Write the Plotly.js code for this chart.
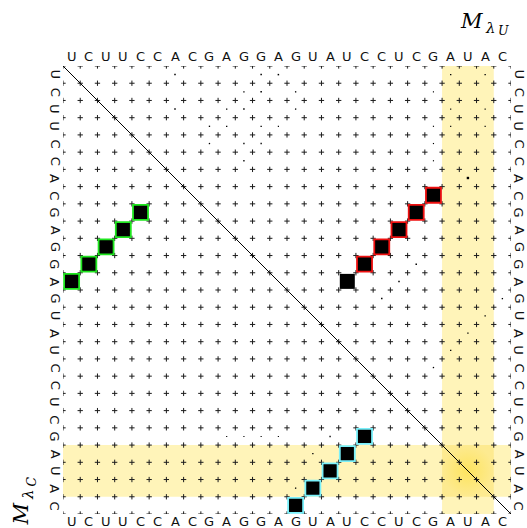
<!DOCTYPE html>
<html>
<head>
<meta charset="utf-8">
<script src="https://cdn.plot.ly/plotly-3.0.1.min.js"></script>
<style>
  html, body { margin: 0; padding: 0; background: #ffffff; }
  #plot { width: 527px; height: 528px; }
</style>
</head>
<body>
<div id="plot"></div>
<script>
// RNA sequence shown along all four sides of the dot plot
const sequence = ['U','C','U','U','C','C','A','C','G','A','G','G','A','G',
                  'U','A','U','C','C','U','C','G','A','U','A','C'];

// Lower-left helix (green outline): row index i, column index j, probability
const helixGreenI = [12, 11, 10, 9, 8];
const helixGreenJ = [0, 1, 2, 3, 4];
const helixGreenP = [1, 1, 1, 1, 1];

// Upper-right helix (red outline)
const helixRedI = [7, 8, 9, 10, 11];
const helixRedJ = [21, 20, 19, 18, 17];
const helixRedP = [1, 1, 1, 1, 1];

// Unmarked pair closing the red helix
const loneI = [12];
const loneJ = [16];
const loneP = [1];

// Bottom helix (cyan outline)
const helixCyanI = [25, 24, 23, 22, 21];
const helixCyanJ = [13, 14, 15, 16, 17];
const helixCyanP = [1, 1, 1, 1, 1];

// Low-probability pairs
const weakI = [0, 0, 0, 0, 0,
               1, 1, 1, 1,
               2, 2, 2, 2, 2, 2,
               3, 3, 3, 3, 3, 3, 3,
               4, 4, 4, 4,
               5, 5,
               6,
               11, 12, 13, 13, 14, 15, 16, 17,
               21, 21, 21, 21, 21, 22, 24];
const weakJ = [6, 11, 12, 22, 24,
               10, 11, 13, 21,
               6, 9, 10, 13, 22, 24,
               8, 9, 11, 12, 21, 22, 24,
               8, 10, 11, 21,
               10, 21,
               23,
               20, 19, 18, 25, 24, 23, 22, 21,
               9, 10, 11, 12, 15, 14, 13];
const weakP = [0.010, 0.010, 0.010, 0.008, 0.008,
               0.008, 0.010, 0.008, 0.006,
               0.010, 0.008, 0.010, 0.008, 0.006, 0.006,
               0.008, 0.008, 0.008, 0.006, 0.006, 0.006, 0.006,
               0.008, 0.008, 0.008, 0.006,
               0.008, 0.006,
               0.025,
               0.010, 0.010, 0.010, 0.008, 0.008, 0.008, 0.008, 0.008,
               0.006, 0.006, 0.006, 0.006, 0.008, 0.008, 0.008];

// Highlighted positions (shaded rows and columns)
const highlighted = [22, 23, 24];

const n = sequence.length;
const CELL_MARK = 15;            // marker side for probability 1, in px
const sizeOf = p => CELL_MARK * Math.sqrt(p);
const centre = k => k + 0.5;

// Plot area in page pixels (matches layout margins below)
const AREA = { left: 63, top: 66, size: 448 };
const px2paperX = px => (px - AREA.left) / AREA.size;
const px2paperY = py => (AREA.top + AREA.size - py) / AREA.size;

// Grid crosses at every cell corner
const crossX = [], crossY = [];
for (let a = 0; a <= n; a++) {
  for (let b = 0; b <= n; b++) { crossX.push(a); crossY.push(b); }
}

function pairTrace(I, J, P, edge) {
  return {
    type: 'scatter', mode: 'markers',
    x: J.map(centre), y: I.map(centre),
    cliponaxis: false, hoverinfo: 'skip',
    marker: {
      symbol: 'square', color: '#000000', opacity: 1,
      size: P.map(sizeOf),
      line: edge ? { color: edge, width: 1.8 } : { width: 0 }
    }
  };
}

const hLo = Math.min(...highlighted), hHi = Math.max(...highlighted) + 1;

const data = [
  // brighter centre where the shaded row and column cross
  {
    type: 'scatter', mode: 'lines', hoverinfo: 'skip',
    x: [hLo, hHi, hHi, hLo, hLo], y: [hLo, hLo, hHi, hHi, hLo],
    fill: 'toself', line: { width: 0 },
    fillgradient: { type: 'radial', colorscale: [[0, '#fde45f'], [1, '#fdea90']] }
  },
  {
    type: 'scatter', mode: 'markers', x: crossX, y: crossY,
    cliponaxis: true, hoverinfo: 'skip',
    marker: { symbol: 'cross-thin', size: 3.8, opacity: 1, color: '#000',
              line: { color: '#1c1c1c', width: 1 } }
  },
  {
    type: 'scatter', mode: 'lines', x: [0, n], y: [0, n],
    cliponaxis: false, hoverinfo: 'skip',
    line: { color: '#000000', width: 1 }
  },
  pairTrace(weakI, weakJ, weakP, null),
  pairTrace(loneI, loneJ, loneP, null),
  pairTrace(helixGreenI, helixGreenJ, helixGreenP, '#1fe61f'),
  pairTrace(helixRedI, helixRedJ, helixRedP, '#ee1010'),
  pairTrace(helixCyanI, helixCyanJ, helixCyanP, '#7af0fa')
];

const bandColor = '#fff4b9';
const shapes = [
  { type: 'rect', xref: 'x', yref: 'y', layer: 'below', x0: hLo, x1: hHi, y0: 0, y1: n,
    fillcolor: bandColor, line: { width: 0 } },
  { type: 'rect', xref: 'x', yref: 'y', layer: 'below', x0: 0, x1: n, y0: hLo, y1: hHi,
    fillcolor: bandColor, line: { width: 0 } }
];

const labelFont = { family: 'DejaVu Sans', size: 13, color: '#111111' };
const annotations = [];
sequence.forEach((s, k) => {
  annotations.push({ xref: 'x', yref: 'paper', x: centre(k), y: 1, yshift: 10,
    xanchor: 'center', yanchor: 'middle', text: s, showarrow: false, font: labelFont });
  annotations.push({ xref: 'x', yref: 'paper', x: centre(k), y: 0, yshift: -7,
    xanchor: 'center', yanchor: 'middle', text: s, showarrow: false, font: labelFont });
  annotations.push({ xref: 'paper', yref: 'y', x: 0, y: centre(k), xshift: -8,
    xanchor: 'center', yanchor: 'middle', textangle: 90, text: s, showarrow: false, font: labelFont });
  annotations.push({ xref: 'paper', yref: 'y', x: 1, y: centre(k), xshift: 8,
    xanchor: 'center', yanchor: 'middle', textangle: 90, text: s, showarrow: false, font: labelFont });
});

// Matrix names: M with subscript λ and sub-subscript, placed glyph by glyph
function mathGlyph(text, size, cx, cy, angle) {
  return { xref: 'paper', yref: 'paper', x: px2paperX(cx), y: px2paperY(cy),
    xanchor: 'center', yanchor: 'middle', textangle: angle || 0, showarrow: false,
    text: '<i>' + text + '</i>',
    font: { family: 'DejaVu Serif', size: size, color: '#000000' } };
}
annotations.push(mathGlyph('M', 21, 471.5, 20.5, 0));
annotations.push(mathGlyph('λ', 15, 490.5, 27.5, 0));
annotations.push(mathGlyph('U', 12.5, 503, 30.5, 0));

annotations.push(mathGlyph('M', 21, 20.5, 514, -90));
annotations.push(mathGlyph('λ', 15, 27.5, 494.5, -90));
annotations.push(mathGlyph('C', 12.5, 30.5, 482, -90));

const layout = {
  width: 527, height: 528,
  margin: { l: AREA.left, r: 527 - AREA.left - AREA.size, t: AREA.top,
            b: 528 - AREA.top - AREA.size, pad: 0 },
  paper_bgcolor: '#ffffff', plot_bgcolor: '#ffffff',
  showlegend: false,
  xaxis: { range: [0, n], showgrid: false, zeroline: false, showticklabels: false,
           ticks: '', showline: false, fixedrange: true },
  yaxis: { range: [n, 0], showgrid: false, zeroline: false, showticklabels: false,
           ticks: '', showline: false, fixedrange: true },
  shapes: shapes,
  annotations: annotations
};

Plotly.newPlot('plot', data, layout, { staticPlot: true, displayModeBar: false });
</script>
</body>
</html>
